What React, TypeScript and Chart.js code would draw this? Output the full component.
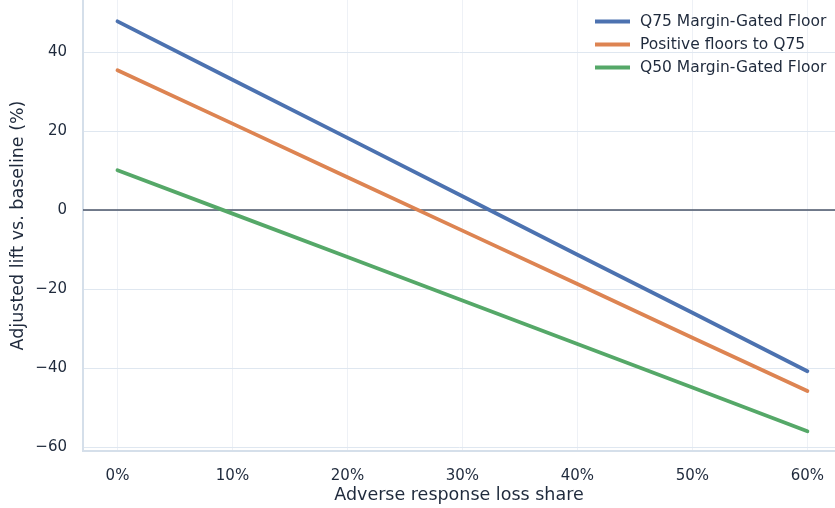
import React, { useEffect, useRef } from "react";
import { Chart, registerables } from "chart.js";

Chart.register(...registerables);

const xShares = [0, 10, 20, 30, 40, 50, 60];
const q75Floor = [47.8, 33.0, 18.3, 3.5, -11.3, -26.0, -40.8];
const positiveFloors = [35.4, 21.9, 8.3, -5.2, -18.7, -32.3, -45.8];
const q50Floor = [10.1, -0.9, -11.9, -22.9, -33.9, -44.9, -56.0];
const seriesNames = ["Q75 Margin-Gated Floor", "Positive floors to Q75", "Q50 Margin-Gated Floor"];
const seriesColors = ["#4c72b0", "#dd8452", "#55a868"];
const xTicks = [0, 10, 20, 30, 40, 50, 60];
const yTicks = [-60, -40, -20, 0, 20, 40];

const FONT = "'DejaVu Sans', sans-serif";
const TEXT = "#1f2a3c";

const legendPlugin = {
  id: "customLegend",
  afterDatasetsDraw(chart: any) {
    const ctx = chart.ctx;
    ctx.save();
    const x0 = 595, x1 = 630, tx = 640;
    const ys = [21.5, 44.5, 67.5];
    chart.data.datasets.forEach((ds: any, i: number) => {
      ctx.strokeStyle = ds.borderColor;
      ctx.lineWidth = 3.8;
      ctx.lineCap = "butt";
      ctx.beginPath();
      ctx.moveTo(x0, ys[i]);
      ctx.lineTo(x1, ys[i]);
      ctx.stroke();
      ctx.fillStyle = TEXT;
      ctx.font = `15.5px ${FONT}`;
      ctx.textBaseline = "middle";
      ctx.textAlign = "left";
      ctx.fillText(ds.label, tx, ys[i] + 0.5);
    });
    ctx.restore();
  },
};

const zeroLinePlugin = {
  id: "zeroLine",
  beforeDatasetsDraw(chart: any) {
    const ctx = chart.ctx;
    const y = chart.scales.y.getPixelForValue(0);
    const area = chart.chartArea;
    ctx.save();
    ctx.strokeStyle = "#4a5568";
    ctx.lineWidth = 1.5;
    ctx.beginPath();
    ctx.moveTo(area.left, y);
    ctx.lineTo(area.right, y);
    ctx.stroke();
    ctx.restore();
  },
};

export default function App() {
  const ref = useRef<HTMLCanvasElement | null>(null);
  useEffect(() => {
    if (!ref.current) return;
    const series = [q75Floor, positiveFloors, q50Floor];
    const chart = new Chart(ref.current, {
      type: "line",
      data: {
        datasets: series.map((vals, i) => ({
          label: seriesNames[i],
          data: xShares.map((x, j) => ({ x, y: vals[j] })),
          borderColor: seriesColors[i],
          backgroundColor: seriesColors[i],
          borderWidth: 3.8,
          pointRadius: 0,
          tension: 0,
          borderCapStyle: "round" as const,
        })),
      },
      options: {
        responsive: false,
        animation: false,
        layout: { padding: 0 },
        plugins: {
          legend: { display: false },
          tooltip: { enabled: false },
        },
        scales: {
          x: {
            type: "linear",
            min: -3,
            max: 62.4,
            afterBuildTicks: (s: any) => {
              s.ticks = xTicks.map((v) => ({ value: v }));
            },
            afterFit: (s: any) => {
              s.height = 57;
              s.paddingLeft = 0;
              s.paddingRight = 0;
              s.paddingTop = 0;
              s.paddingBottom = 0;
            },
            grid: { color: "#eef1f6", lineWidth: 1, drawTicks: false },
            border: { color: "#d5dfea", width: 2 },
            ticks: {
              padding: 16,
              color: TEXT,
              font: { family: FONT, size: 15 },
              callback: (v: any) => `${v}%`,
            },
            title: {
              display: true,
              text: "Adverse response loss share",
              color: TEXT,
              font: { family: FONT, size: 17.5 },
              padding: { top: 0, bottom: 2 },
            },
          },
          y: {
            type: "linear",
            min: -61,
            max: 53.2,
            afterBuildTicks: (s: any) => {
              s.ticks = yTicks.map((v) => ({ value: v }));
            },
            afterFit: (s: any) => {
              s.width = 83;
              s.paddingLeft = 0;
              s.paddingRight = 0;
              s.paddingTop = 0;
              s.paddingBottom = 0;
            },
            grid: { color: "#dfe7f0", lineWidth: 1, drawTicks: false },
            border: { color: "#d5dfea", width: 2 },
            ticks: {
              padding: 16,
              color: TEXT,
              font: { family: FONT, size: 15 },
              callback: (v: any) => (v < 0 ? `\u2212${Math.abs(v)}` : `${v}`),
            },
            title: {
              display: true,
              text: "Adjusted lift vs. baseline (%)",
              color: TEXT,
              font: { family: FONT, size: 17.5 },
              padding: { top: 8, bottom: 0 },
            },
          },
        },
      },
      plugins: [zeroLinePlugin, legendPlugin],
    });
    return () => chart.destroy();
  }, []);
  return (
    <div style={{ position: "absolute", left: 0, top: 0, width: 835, height: 508, background: "#fff" }}>
      <canvas ref={ref} width={835} height={508} style={{ display: "block" }} />
    </div>
  );
}
